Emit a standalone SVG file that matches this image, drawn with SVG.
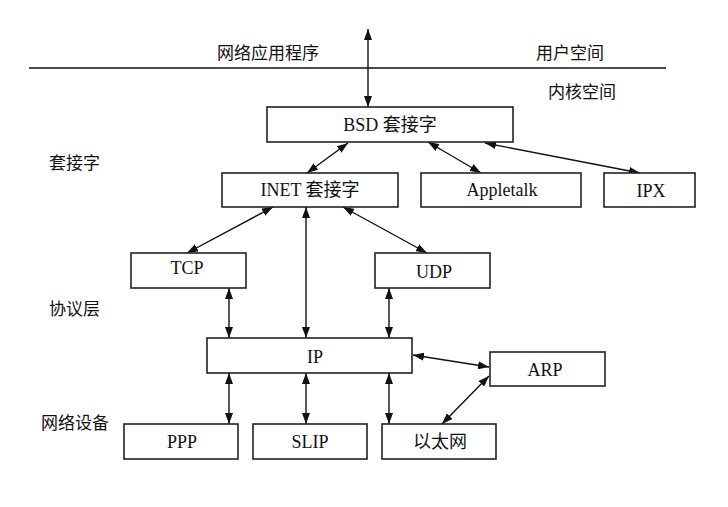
<svg xmlns="http://www.w3.org/2000/svg" width="728" height="507" viewBox="0 0 728 507">
<defs>
<marker id="ah" viewBox="0 0 11 8" refX="11" refY="4" markerUnits="userSpaceOnUse" markerWidth="11" markerHeight="8" orient="auto-start-reverse">
<path d="M0,0 L11,4 L0,8 z" fill="#111"/>
</marker>
<style>
.box{fill:#fff;stroke:#222;stroke-width:1.6}
.t{font-family:"Liberation Serif","Noto Sans CJK SC",serif;font-size:18px;fill:#111;text-anchor:middle}
.lbl{font-family:"Noto Sans CJK SC","Liberation Serif",serif;font-size:17px;fill:#111}
.c{stroke:#111;stroke-width:1.4;fill:none;marker-start:url(#ah);marker-end:url(#ah)}
</style>
</defs>
<rect width="728" height="507" fill="#fff"/>
<g id="labels">
<line x1="29" y1="68" x2="666" y2="68" stroke="#111" stroke-width="1.5"/>
<text class="lbl" x="268" y="59" text-anchor="middle">网络应用程序</text>
<text class="lbl" x="570" y="59" text-anchor="middle">用户空间</text>
<text class="lbl" x="582" y="98" text-anchor="middle">内核空间</text>
<text class="lbl" x="49" y="169">套接字</text>
<text class="lbl" x="49" y="315">协议层</text>
<text class="lbl" x="41" y="429">网络设备</text>
</g>
<g id="connectors">
<line class="c" x1="368" y1="29" x2="368" y2="107"/>
<line class="c" x1="348" y1="143" x2="307" y2="173"/>
<line class="c" x1="428" y1="142" x2="481" y2="173"/>
<line class="c" x1="485" y1="143" x2="640" y2="173"/>
<line class="c" x1="273" y1="207" x2="187" y2="253"/>
<line class="c" x1="306" y1="207" x2="306" y2="338"/>
<line class="c" x1="343" y1="207" x2="427" y2="253"/>
<line class="c" x1="229" y1="288" x2="229" y2="338"/>
<line class="c" x1="389" y1="288" x2="389" y2="338"/>
<line class="c" x1="229" y1="373" x2="229" y2="424"/>
<line class="c" x1="306" y1="373" x2="306" y2="424"/>
<line class="c" x1="389" y1="373" x2="389" y2="424"/>
<line class="c" x1="413" y1="355" x2="489" y2="367"/>
<line class="c" x1="489" y1="376" x2="442" y2="424"/>
</g>
<g id="bsd"><rect class="box" x="267" y="107" width="246" height="35"/><text class="t" x="390" y="131">BSD 套接字</text></g>
<g id="inet"><rect class="box" x="222" y="173" width="176" height="34"/><text class="t" x="310" y="196">INET 套接字</text></g>
<g id="appletalk"><rect class="box" x="421" y="173" width="160" height="34"/><text class="t" x="502" y="196">Appletalk</text></g>
<g id="ipx"><rect class="box" x="604" y="173" width="91" height="34"/><text class="t" x="651" y="197">IPX</text></g>
<g id="tcp"><rect class="box" x="131" y="253" width="115" height="35"/><text class="t" x="187" y="274">TCP</text></g>
<g id="udp"><rect class="box" x="375" y="253" width="115" height="35"/><text class="t" x="434" y="278">UDP</text></g>
<g id="ip"><rect class="box" x="207" y="338" width="205" height="35"/><text class="t" x="315" y="363">IP</text></g>
<g id="arp"><rect class="box" x="490" y="352" width="115" height="34"/><text class="t" x="545" y="376">ARP</text></g>
<g id="ppp"><rect class="box" x="124" y="424" width="114" height="35"/><text class="t" x="182" y="448">PPP</text></g>
<g id="slip"><rect class="box" x="253" y="424" width="114" height="35"/><text class="t" x="310" y="448">SLIP</text></g>
<g id="ethernet"><rect class="box" x="382" y="424" width="114" height="35"/><text class="t" x="440" y="448">以太网</text></g>
</svg>
